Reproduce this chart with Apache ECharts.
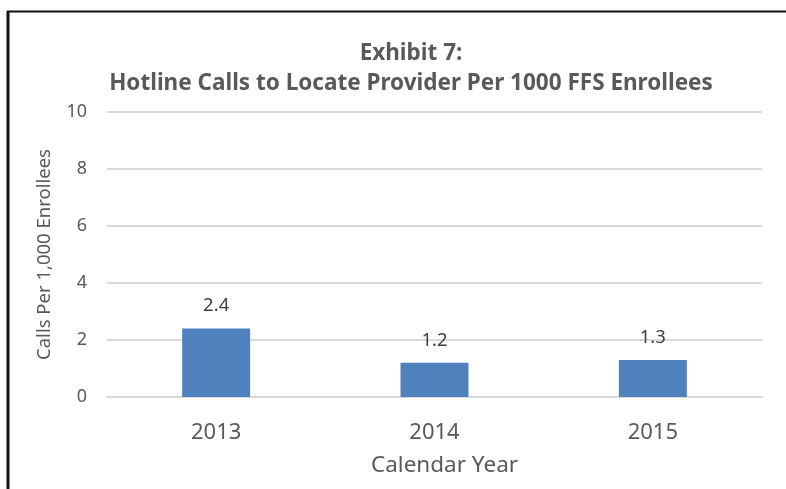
<!DOCTYPE html>
<html><head><meta charset="utf-8">
<script src="https://cdn.jsdelivr.net/npm/echarts@6/dist/echarts.min.js"></script>
<style>html,body{margin:0;padding:0;background:#fff;}#c{width:786px;height:489px;}</style>
</head><body><div id="c"></div>
<script>
const categories = ['2013', '2014', '2015'];
const callsPer1000 = [2.4, 1.2, 1.3];
const yTicks = [0, 2, 4, 6, 8, 10];

const font = '"Noto Sans", sans-serif';
const chart = echarts.init(document.getElementById('c'), null, {renderer: 'canvas'});
chart.setOption({
  animation: false,
  backgroundColor: '#fff',
  title: {
    text: 'Exhibit 7:\nHotline Calls to Locate Provider Per 1000 FFS Enrollees',
    left: 406, top: 34, textAlign: 'center',
    textStyle: {fontFamily: font, fontWeight: 'bold', fontSize: 22.5, color: '#595959', lineHeight: 30}
  },
  graphic: [
    {type: 'line', shape: {x1: 7, y1: 11.5, x2: 786, y2: 11.5}, style: {stroke: '#111', lineWidth: 2}},
    {type: 'line', shape: {x1: 8, y1: 11, x2: 8, y2: 489}, style: {stroke: '#111', lineWidth: 3}},
    {type: 'text', left: 446 - 75, top: 454, style: {text: 'Calendar Year', fontFamily: font, fontSize: 22.5, fill: '#595959', textAlign: 'left'}}
  ],
  grid: {left: 107, right: 24, top: 112, bottom: 92, containLabel: false},
  xAxis: {
    type: 'category', data: categories,
    axisLine: {show: true, lineStyle: {color: '#d9d9d9', width: 2}},
    axisTick: {show: false},
    axisLabel: {fontFamily: font, fontSize: 22, color: '#595959', margin: 25}
  },
  yAxis: {
    type: 'value', min: 0, max: 10, interval: 2,
    name: 'Calls Per 1,000 Enrollees', nameLocation: 'middle', nameGap: 53,
    nameTextStyle: {fontFamily: font, fontSize: 18.5, color: '#595959'},
    axisLine: {show: false}, axisTick: {show: false},
    axisLabel: {fontFamily: font, fontSize: 18, color: '#595959', margin: 20,
      formatter: v => yTicks.includes(v) ? String(v) : ''},
    splitLine: {lineStyle: {color: '#d9d9d9', width: 2}}
  },
  series: [{
    type: 'bar', data: callsPer1000, barWidth: 68,
    itemStyle: {color: '#4f81bd'},
    label: {show: true, position: 'top', distance: 13, fontFamily: font, fontSize: 18.5, color: '#404040',
      formatter: p => p.value.toFixed(1)}
  }]
});
</script></body></html>
